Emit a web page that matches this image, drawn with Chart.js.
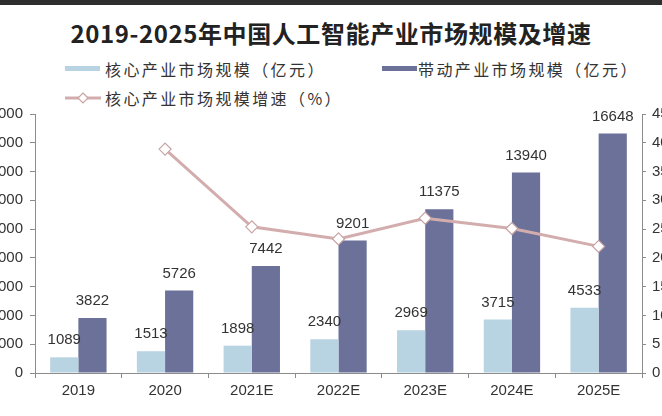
<!DOCTYPE html>
<html>
<head>
<meta charset="utf-8">
<script src="https://cdn.jsdelivr.net/npm/chart.js@4.4.1/dist/chart.umd.min.js"></script>
<style>
  html, body { margin: 0; padding: 0; background: #fff; }
  body { width: 662px; height: 416px; overflow: hidden; position: relative; }
  #topbar { position: absolute; left: 0; top: 0; width: 662px; height: 5px; background: #2e2e2e; }
  #title { position: absolute; left: 0; top: 15px; width: 662px; text-align: center;
    font-family: "Noto Sans CJK SC", sans-serif; font-weight: 700; font-size: 24px; color: #222;
    letter-spacing: 0.6px; }
  .lg { position: absolute; font-family: "Noto Sans CJK SC", sans-serif; font-size: 16px;
    color: #333; letter-spacing: 2.4px; line-height: 20px; }
  .box { position: absolute; width: 35px; height: 5px; }
  #wrap { position: absolute; left: -40px; top: 98px; width: 760px; height: 316px; }
</style>
</head>
<body>
<div id="topbar"></div>
<div id="title">2019-2025年中国人工智能产业市场规模及增速</div>

<div class="box" style="left:65px;top:66px;background:#b8d3e2"></div>
<div class="lg" style="left:105px;top:59px">核心产业市场规模（亿元）</div>
<div class="box" style="left:382px;top:66px;background:#6b7198"></div>
<div class="lg" style="left:418px;top:59px">带动产业市场规模（亿元）</div>
<svg style="position:absolute;left:63px;top:91px" width="40" height="14">
  <line x1="2" y1="7" x2="38" y2="7" stroke="#d3adad" stroke-width="3"/>
  <polygon points="20,2 25,7 20,12 15,7" fill="#fff" stroke="#c9a3a3" stroke-width="1.2"/>
</svg>
<div class="lg" style="left:105px;top:88px">核心产业市场规模增速（%）</div>

<div id="wrap"><canvas id="c"></canvas></div>

<script>
const years = ['2019', '2020', '2021E', '2022E', '2023E', '2024E', '2025E'];
const coreScale = [1089, 1513, 1898, 2340, 2969, 3715, 4533];
const drivenScale = [3822, 5726, 7442, 9201, 11375, 13940, 16648];
const coreGrowth = [null, 38.9, 25.4, 23.3, 26.9, 25.1, 22.0];

const axisColor = '#8c8c8c';
const tickFont = { family: "'Liberation Sans', Arial, sans-serif", size: 15 };

// value labels above bars
const barLabels = {
    id: 'barLabels',
    afterDatasetsDraw(chart) {
        const ctx = chart.ctx;
        ctx.save();
        ctx.font = "15px 'Liberation Sans', Arial, sans-serif";
        ctx.fillStyle = '#333';
        ctx.textAlign = 'center';
        ctx.textBaseline = 'middle';
        [0, 1].forEach(i => {
            const meta = chart.getDatasetMeta(i);
            meta.data.forEach((bar, j) => {
                ctx.fillText(chart.data.datasets[i].data[j], bar.x, bar.y - 17);
            });
        });
        ctx.restore();
    }
};

new Chart(document.getElementById('c'), {
    data: {
        labels: years,
        datasets: [
            {
                type: 'bar',
                label: '核心产业市场规模（亿元）',
                data: coreScale,
                backgroundColor: '#b8d3e2',
                yAxisID: 'y',
                order: 1
            },
            {
                type: 'bar',
                label: '带动产业市场规模（亿元）',
                data: drivenScale,
                backgroundColor: '#6b7198',
                yAxisID: 'y',
                order: 1
            },
            {
                type: 'line',
                label: '核心产业市场规模增速（%）',
                data: coreGrowth,
                yAxisID: 'y1',
                borderColor: '#d3adad',
                borderWidth: 3,
                pointStyle: 'rectRot',
                pointRadius: 6,
                pointBackgroundColor: '#fff',
                pointBorderColor: '#c9a3a3',
                pointBorderWidth: 1.2,
                order: 0
            }
        ]
    },
    plugins: [barLabels],
    options: {
        responsive: true,
        maintainAspectRatio: false,
        animation: false,
        layout: { padding: { top: 15, left: 0, right: 0, bottom: 0 } },
        datasets: { bar: { barPercentage: 1, categoryPercentage: 0.65 } },
        plugins: { legend: { display: false }, tooltip: { enabled: false } },
        scales: {
            x: {
                offset: true,
                grid: { display: true, drawOnChartArea: false, offset: true, tickLength: 5, color: axisColor },
                border: { color: axisColor },
                ticks: { font: tickFont, color: '#333', padding: 4 },
                afterFit: s => { s.height = 41; }
            },
            y: {
                position: 'left',
                min: 0, max: 18000,
                ticks: { stepSize: 2000, font: tickFont, color: '#333', padding: 7 },
                grid: { drawOnChartArea: false, tickLength: 5, color: axisColor },
                border: { color: axisColor },
                afterFit: s => { s.width = 75; }
            },
            y1: {
                position: 'right',
                min: 0, max: 45,
                ticks: { stepSize: 5, font: tickFont, color: '#333', padding: 6 },
                grid: { drawOnChartArea: false, tickLength: 4, color: axisColor },
                border: { color: axisColor },
                afterFit: s => { s.width = 78; }
            }
        }
    }
});
</script>
</body>
</html>
